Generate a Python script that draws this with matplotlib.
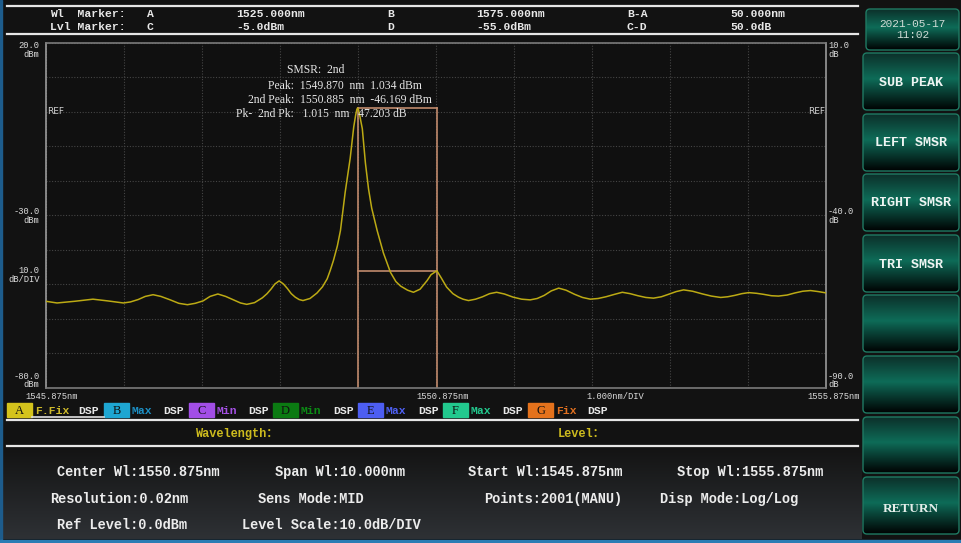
import numpy as np
import matplotlib
matplotlib.use("Agg")
import matplotlib.pyplot as plt
from matplotlib.patches import FancyBboxPatch, Rectangle
from matplotlib.transforms import blended_transform_factory

# ---------------- data ----------------
wavelength_nm = [1545.875, 1546.02, 1546.25, 1546.48, 1546.67, 1546.87, 1546.96, 1547.06,
                 1547.15, 1547.25, 1547.35, 1547.47, 1547.58, 1547.69, 1547.79, 1547.89,
                 1547.98, 1548.08, 1548.18, 1548.28, 1548.37, 1548.45, 1548.55, 1548.65,
                 1548.71, 1548.76, 1548.81, 1548.865, 1548.92, 1548.97, 1549.02, 1549.07,
                 1549.12, 1549.17, 1549.26, 1549.35, 1549.42, 1549.48,
                 1549.52, 1549.56, 1549.61, 1549.65, 1549.71, 1549.775, 1549.82, 1549.845,
                 1549.86, 1549.87, 1549.88, 1549.90, 1549.93, 1549.97, 1550.01, 1550.05,
                 1550.12, 1550.20, 1550.29, 1550.36, 1550.42, 1550.51, 1550.585, 1550.67,
                 1550.76, 1550.81, 1550.885, 1550.94, 1551.01, 1551.09, 1551.16, 1551.22,
                 1551.29, 1551.38, 1551.47, 1551.56, 1551.65, 1551.75, 1551.86, 1551.97,
                 1552.08, 1552.17, 1552.26, 1552.35, 1552.445, 1552.54, 1552.65, 1552.75,
                 1552.85, 1552.95, 1553.05, 1553.16, 1553.26, 1553.36, 1553.46, 1553.56,
                 1553.66, 1553.76, 1553.85, 1553.95, 1554.045, 1554.16, 1554.29, 1554.40,
                 1554.52, 1554.61, 1554.70, 1554.79, 1554.88, 1554.98, 1555.07, 1555.17,
                 1555.26, 1555.37, 1555.47, 1555.57, 1555.67, 1555.77, 1555.875]
power_dbm = [-55.0, -55.5, -55.0, -54.4, -54.9, -55.5, -55.2, -54.5,
             -53.6, -53.1, -53.6, -54.6, -55.6, -56.0, -55.6, -54.9,
             -53.6, -52.9, -53.6, -54.6, -55.5, -55.9, -55.4, -54.0,
             -52.8, -51.5, -50.0, -49.1, -50.0, -51.3, -52.8, -53.8,
             -54.5, -54.8, -54.2, -52.6, -50.8, -48.5,
             -46.0, -43.2, -39.0, -34.5, -23.5, -13.5, -4.5, -1.0,
             0.6, 1.034, 0.6, -1.5, -5.0, -15.0, -22.5, -28.0,
             -34.5, -41.0, -46.6, -49.3, -50.6, -51.8, -52.4, -51.5,
             -49.0, -47.3, -46.169, -48.2, -50.9, -52.8, -53.8, -54.4,
             -54.8, -54.4, -53.7, -52.8, -52.4, -52.9, -53.8, -54.4,
             -54.6, -54.2, -53.3, -52.0, -51.2, -51.8, -53.0, -53.9,
             -54.4, -54.2, -53.7, -53.0, -52.4, -52.8, -53.4, -53.9,
             -54.1, -53.7, -53.0, -52.2, -51.7, -52.1, -52.9, -53.5,
             -53.9, -53.7, -53.3, -52.8, -52.5, -52.7, -53.0, -53.4,
             -53.5, -53.2, -52.6, -52.1, -51.9, -52.2, -52.6]

peak_wl, peak_lvl = 1549.870, 1.034
sub_wl, sub_lvl = 1550.885, -46.169
start_wl, stop_wl = 1545.875, 1555.875
y_min, y_max = -80.0, 20.0
left_ticks = [20.0, -30.0, -80.0]
left_units = ["dBm", "dBm", "dBm"]
right_ticks = ["10.0", "-40.0", "-90.0"]
x_labels = ["1545.875nm", "1550.875nm", "1.000nm/DIV", "1555.875nm"]

smsr_lines = ["SMSR:  2nd",
              "Peak:  1549.870  nm  1.034 dBm",
              "2nd Peak:  1550.885  nm  -46.169 dBm",
              "Pk-  2nd Pk:   1.015  nm   47.203 dB"]

header_row1 = ["Wl  Marker:", "A", "1525.000nm", "B", "1575.000nm", "B-A", "50.000nm"]
header_row2 = ["Lvl Marker:", "C", "-5.0dBm", "D", "-55.0dBm", "C-D", "50.0dB"]

trace_letters = ["A", "B", "C", "D", "E", "F", "G"]
trace_modes = ["F.Fix", "Max", "Min", "Min", "Max", "Max", "Fix"]

info_rows = [["Center Wl:1550.875nm", "Span Wl:10.000nm", "Start Wl:1545.875nm", "Stop Wl:1555.875nm"],
             ["Resolution:0.02nm", "Sens Mode:MID", "Points:2001(MANU)", "Disp Mode:Log/Log"],
             ["Ref Level:0.0dBm", "Level Scale:10.0dB/DIV"]]

buttons = ["2021-05-17\n11:02", "SUB PEAK", "LEFT SMSR", "RIGHT SMSR", "TRI SMSR", "", "", "", "RETURN"]

# ---------------- layout / style ----------------
W, H = 962, 543
MONO = "Liberation Mono"
SERIF = "Liberation Serif"
fig = plt.figure(figsize=(W / 100, H / 100), dpi=100)
fig.patch.set_facecolor("#121212")

bg = fig.add_axes([0, 0, 1, 1])
bg.set_autoscale_on(False)
bg.set_xlim(0, W)
bg.set_ylim(H, 0)
bg.axis("off")

# frame borders
bg.add_patch(Rectangle((0, 0), 2.5, H, color="#1d5c8c", zorder=5))
bg.add_patch(Rectangle((0, 539.5), W, 4, color="#2a7cb4", zorder=5))

# header lines and text
for yy in (5.5, 33.5):
    bg.plot([7, 858], [yy, yy], color="#e6e6e6", lw=1.6, zorder=3)
hdr_x = [50, 147, 236, 387, 476, 627, 730]
for row, yy in ((header_row1, 14), (header_row2, 27)):
    for s, xx in zip(row, hdr_x):
        bg.text(xx, yy, s, fontsize=8.2, family=MONO, weight="bold", color="#e8e8e8",
                ha="left", va="center")

# bottom info panel gradient
grad = np.linspace(0, 1, 100)[:, None]
c0 = np.array([0x13, 0x13, 0x13]) / 255
c1 = np.array([0x2e, 0x31, 0x35]) / 255
img = c0[None, None, :] * (1 - grad[:, :, None]) + c1[None, None, :] * grad[:, :, None]
bg.imshow(img, extent=(2.5, 862, 539.5, 447), aspect="auto", zorder=1, interpolation="bilinear")

# legend row of traces
box_x = [7, 104, 189, 273, 358, 443, 528]
dsp_x = [78, 163, 248, 333, 418, 502, 587]
box_fc = ["#d4c31c", "#1ea6d2", "#a24ee6", "#0b7a12", "#4d5ef2", "#22c98e", "#e4721c"]
mode_c = ["#cdb92a", "#1c8fc4", "#a450e4", "#0b8a14", "#4e60f2", "#22c98e", "#e07020"]
for L, m, bx, dx, fc, mc in zip(trace_letters, trace_modes, box_x, dsp_x, box_fc, mode_c):
    bg.add_patch(Rectangle((bx, 403), 25, 14, color=fc, zorder=3))
    bg.text(bx + 12.5, 410.5, L, fontsize=9, family=SERIF, color="#101010", ha="center",
            va="center", zorder=4)
    bg.text(bx + 28, 410.5, m, fontsize=8.2, family=MONO, weight="bold", color=mc,
            ha="left", va="center")
    bg.text(dx, 410.5, "DSP", fontsize=8.2, family=MONO, weight="bold", color="#e8e8e8",
            ha="left", va="center")
bg.plot([32, 104], [416.8, 416.8], color="#e0e0e0", lw=1.2, zorder=3)
for yy in (419.5, 446):
    bg.plot([7, 858], [yy, yy], color="#e6e6e6", lw=1.6, zorder=3)
bg.text(238, 434, "Wavelength\uff1a", fontsize=8.6, family=[MONO, "Noto Sans CJK SC"],
        weight="bold", color="#cdbb1e", ha="center", va="center")
bg.text(582, 434, "Level\uff1a", fontsize=8.6, family=[MONO, "Noto Sans CJK SC"],
        weight="bold", color="#cdbb1e", ha="center", va="center")

# info panel text
info_x = [[57, 275, 468, 677], [50, 258, 484, 660], [57, 242]]
info_y = [472, 499, 525]
for row, xs, yy in zip(info_rows, info_x, info_y):
    for s, xx in zip(row, xs):
        bg.text(xx, yy, s, fontsize=9.8, family=MONO, weight="bold", color="#ececec",
                ha="left", va="center", zorder=3)

# right side buttons
btn_y = [(9, 50), (53, 110), (114, 171), (174, 231), (235, 292), (295, 352), (356, 413),
         (417, 473), (477, 534)]
stops_t = [0.0, 0.45, 0.62, 1.0]
stops_c = np.array([[0x0c, 0x30, 0x2a], [0x0e, 0x6c, 0x58], [0x0a, 0x4a, 0x3d], [0x00, 0x02, 0x02]]) / 255
tt = np.linspace(0, 1, 120)
bgrad = np.stack([np.interp(tt, stops_t, stops_c[:, k]) for k in range(3)], axis=-1)[:, None, :]
for i, (lab, (y0, y1)) in enumerate(zip(buttons, btn_y)):
    x0 = 866 if i == 0 else 863
    x1 = 959
    patch = FancyBboxPatch((x0, y0), x1 - x0, y1 - y0, boxstyle="round,pad=0,rounding_size=4",
                           fc="none", ec="#1f7a63", lw=1.0, zorder=4)
    bg.add_patch(patch)
    im = bg.imshow(bgrad, extent=(x0, x1, y1, y0), aspect="auto", zorder=2,
                   interpolation="bilinear")
    im.set_clip_path(patch)
    if i == 0:
        bg.text((x0 + x1) / 2, (y0 + y1) / 2, lab, fontsize=8, family=MONO, color="#cfdcd6",
                ha="center", va="center", linespacing=1.1, zorder=5)
    elif lab == "RETURN":
        bg.text((x0 + x1) / 2, (y0 + y1) / 2 + 3, lab, fontsize=9.5, family=SERIF,
                weight="bold", color="#e4eeea", ha="center", va="center", zorder=5)
    elif lab:
        bg.text((x0 + x1) / 2, (y0 + y1) / 2 + 1, lab, fontsize=9.6, family=MONO,
                weight="bold", color="#eef4f2", ha="center", va="center", zorder=5)

# ---------------- spectrum plot ----------------
AX_L, AX_R, AX_T, AX_B = 45.7, 826.5, 42.5, 387.5
ax = fig.add_axes([AX_L / W, 1 - AX_B / H, (AX_R - AX_L) / W, (AX_B - AX_T) / H])
ax.set_facecolor("#101010")
ax.set_xlim(start_wl, stop_wl)
ax.set_ylim(y_min, y_max)
ax.set_xticks(np.linspace(start_wl, stop_wl, 11))
ax.set_yticks(np.linspace(y_min, y_max, 11))
ax.tick_params(length=0, labelbottom=False, labelleft=False)
ax.grid(True, color="#454545", linestyle=(0, (1, 1.5)), lw=0.8)
for side, sp in ax.spines.items():
    sp.set_color("#9a9a9a" if side in ("left", "right") else "#7a7a7a")
    sp.set_linewidth(1.2)

ax.plot(wavelength_nm, power_dbm, color="#bcaa14", lw=1.1, zorder=3)

# SMSR box
box_c = "#c08a6c"
ax.plot([peak_wl, peak_wl], [y_min, peak_lvl], color=box_c, lw=1.2, zorder=2)
ax.plot([sub_wl, sub_wl], [y_min, peak_lvl], color=box_c, lw=1.2, zorder=2)
ax.plot([peak_wl, sub_wl], [peak_lvl, peak_lvl], color=box_c, lw=1.2, zorder=2)
ax.plot([peak_wl, sub_wl], [sub_lvl, sub_lvl], color=box_c, lw=1.2, zorder=2)

# REF labels at 0 dBm
ytr = blended_transform_factory(ax.transAxes, ax.transData)
ax.text(0.002, 0.0, "REF", transform=ytr, fontsize=6.5, family="DejaVu Sans",
        color="#cfcfcf", ha="left", va="center")
ax.text(0.998, 0.0, "REF", transform=ytr, fontsize=6.5, family="DejaVu Sans",
        color="#cfcfcf", ha="right", va="center")

# left/right axis labels
vas = ["top", "center", "bottom"]
offs = [0.4, -0.3, -0.5]
for v, u, r, va, off in zip(left_ticks, left_units, right_ticks, vas, offs):
    ax.text(-0.008, v + off, f"{v:.1f}\n{u}", transform=ytr, fontsize=6.3, family=MONO,
            color="#dcdcdc", ha="right", va=va, linespacing=0.95, clip_on=False)
    ax.text(1.002, v + off, f"{r}\ndB", transform=ytr, fontsize=6.3, family=MONO,
            color="#dcdcdc", ha="left", va=va, linespacing=0.95, clip_on=False)
ax.text(-0.008, -50, "10.0\ndB/DIV", transform=ytr, fontsize=6.3, family=MONO,
        color="#dcdcdc", ha="right", va="bottom", linespacing=0.95, clip_on=False)

# x labels below plot
xtr = blended_transform_factory(ax.transData, ax.transAxes)
ax.text(start_wl + 0.07, -0.025, x_labels[0], transform=xtr, fontsize=6.3, family=MONO,
        color="#dcdcdc", ha="center", va="center", clip_on=False)
ax.text(start_wl + 0.5 * (stop_wl - start_wl) + 0.08, -0.025, x_labels[1], transform=xtr,
        fontsize=6.3, family=MONO, color="#dcdcdc", ha="center", va="center", clip_on=False)
ax.text(start_wl + 0.73 * (stop_wl - start_wl), -0.025, x_labels[2], transform=xtr,
        fontsize=6.3, family=MONO, color="#dcdcdc", ha="center", va="center", clip_on=False)
ax.text(stop_wl + 0.43, -0.025, x_labels[3], transform=xtr, fontsize=6.3, family=MONO,
        color="#dcdcdc", ha="right", va="center", clip_on=False)

# SMSR annotation text, drawn above the plot
ann = fig.add_axes([0, 0, 1, 1], facecolor="none")
ann.set_xlim(0, W)
ann.set_ylim(H, 0)
ann.axis("off")
smsr_x = [287, 268, 248, 236]
smsr_y = [70, 86, 100, 114]
for s, xx, yy in zip(smsr_lines, smsr_x, smsr_y):
    ann.text(xx, yy, s, fontsize=8.4, family=SERIF, color="#e6e6e6", ha="left", va="center")
bg.set_zorder(0)
ax.set_zorder(1)
ann.set_zorder(2)

fig.savefig("out.png", dpi=100, facecolor=fig.get_facecolor())
